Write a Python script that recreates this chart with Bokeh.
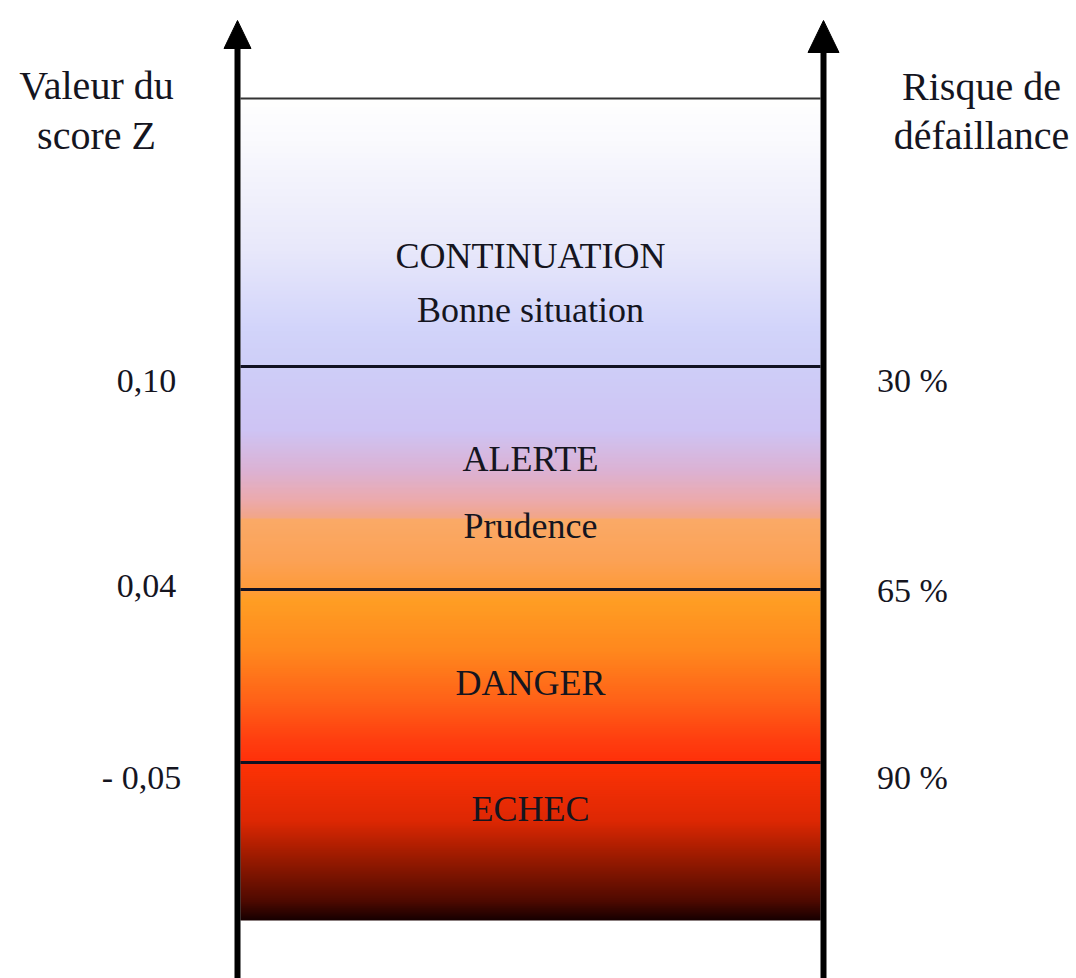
import numpy as np
from bokeh.plotting import figure
from bokeh.models import Range1d, ColumnDataSource
from bokeh.core.properties import value
from bokeh.embed import file_html
from bokeh.resources import INLINE

# ---- content ----
zone_names = ["CONTINUATION", "ALERTE", "DANGER", "ECHEC"]
zone_notes = ["Bonne situation", "Prudence"]
z_thresholds = ["0,10", "0,04", "- 0,05"]
risk_levels = ["30 %", "65 %", "90 %"]
left_title = ["Valeur du", "score Z"]
right_title = ["Risque de", "défaillance"]

# ---- layout (page pixels) ----
boundaries = [98, 366, 589, 762, 920]      # top, 3 thresholds, bottom
box_x0, box_x1 = 240, 820
left_axis_x, right_axis_x = 237, 823
zone_name_base = [255, 458, 682, 808]
zone_note_base = [309, 525]
thr_base_left = [380, 585, 777]
thr_base_right = [380, 590, 777]
thr_x_left = [146, 146, 141]
thr_x_right = 912

# gradient colour stops (y, rgb)
stop_y = [98, 140, 250, 330, 366, 430, 470, 500, 517, 518, 560, 589,
          600, 650, 700, 740, 762, 770, 820, 860, 900, 920]
stop_rgb = [(255, 255, 255), (250, 250, 254), (232, 232, 250), (210, 212, 250),
            (206, 206, 248), (206, 196, 244), (220, 178, 212), (236, 170, 172),
            (242, 166, 136), (250, 170, 104), (252, 162, 86), (255, 155, 58),
            (255, 158, 36), (255, 136, 30), (255, 98, 24), (255, 62, 16),
            (255, 48, 10), (250, 50, 6), (222, 40, 4), (150, 26, 0),
            (80, 10, 0), (22, 0, 0)]

p = figure(width=1076, height=978, x_range=Range1d(0, 1076), y_range=Range1d(978, 0),
           output_backend="svg", toolbar_location=None, min_border=0,
           x_axis_location=None, y_axis_location=None)
p.grid.visible = False
p.outline_line_color = None
p.background_fill_color = "white"
p.border_fill_color = "white"

# gradient strips
ys = np.arange(boundaries[0], boundaries[-1], 2.0)
sy = np.array(stop_y, dtype=float)
rgb = np.array(stop_rgb, dtype=float)
cols = []
for y in ys + 1:
    r = np.interp(y, sy, rgb[:, 0]); g = np.interp(y, sy, rgb[:, 1]); b = np.interp(y, sy, rgb[:, 2])
    cols.append("#%02x%02x%02x" % (int(r), int(g), int(b)))
bottoms = np.minimum(ys + 3, boundaries[-1])
src = ColumnDataSource(dict(top=ys, bottom=bottoms, left=[box_x0] * len(ys),
                            right=[box_x1] * len(ys), color=cols))
p.quad(top="top", bottom="bottom", left="left", right="right", fill_color="color",
       line_color=None, source=src)

# horizontal lines
p.segment(x0=[box_x0], y0=[boundaries[0]], x1=[box_x1], y1=[boundaries[0]],
          line_color="#333333", line_width=2)
p.segment(x0=[box_x0] * 3, y0=boundaries[1:4], x1=[box_x1] * 3, y1=boundaries[1:4],
          line_color="#111122", line_width=3)

# arrows
for ax, hw, base in [(left_axis_x, 13.5, 48), (right_axis_x, 15.5, 52)]:
    p.segment(x0=[ax], y0=[1000], x1=[ax], y1=[base], line_color="black", line_width=6)
    p.patch(x=[ax - hw, ax + hw, ax], y=[base, base, 20], fill_color="black", line_color="black")

font = value("Liberation Serif")
tc = "#15151f"

# titles
p.text(x=[96, 96], y=[85, 135], text=left_title, text_font=font, text_font_size="40px",
       text_align="center", text_baseline="alphabetic", text_color=tc)
p.text(x=[981, 981], y=[86, 135], text=right_title, text_font=font, text_font_size="40px",
       text_align="center", text_baseline="alphabetic", text_color=tc)

# thresholds
p.text(x=thr_x_left, y=thr_base_left, text=z_thresholds, text_font=font, text_font_size="34px",
       text_align="center", text_baseline="alphabetic", text_color=tc)
p.text(x=[thr_x_right] * 3, y=thr_base_right, text=risk_levels, text_font=font,
       text_font_size="34px", text_align="center", text_baseline="alphabetic", text_color=tc)

# zone labels
cx = (box_x0 + box_x1) / 2
p.text(x=[cx] * 4, y=zone_name_base, text=zone_names, text_font=font, text_font_size="36px",
       text_align="center", text_baseline="alphabetic", text_color=tc)
p.text(x=[cx] * 2, y=zone_note_base, text=zone_notes, text_font=font, text_font_size="36px",
       text_align="center", text_baseline="alphabetic", text_color=tc)

open("out.html", "w").write(file_html(p, INLINE))
